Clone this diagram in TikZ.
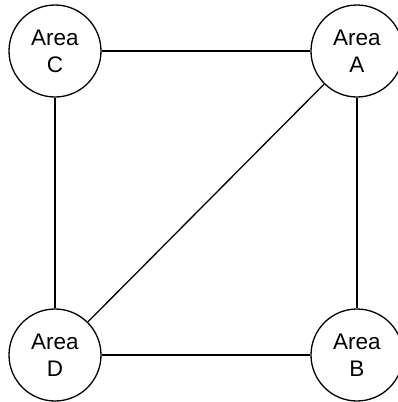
\documentclass[tikz,border=0pt]{standalone}
\usepackage{fontspec}
\setmainfont{Liberation Sans}
\begin{document}
\begin{tikzpicture}[x=1pt,y=-1pt,
  area/.style={circle,draw,line width=1.3pt,minimum size=92pt,inner sep=0pt,
    align=center,font=\fontsize{22.5}{27}\selectfont},
  link/.style={line width=1.3pt}]
\useasboundingbox (0,0) rectangle (398,402);
\node[area] (C) at (55,51) {Area\\C};
\node[area] (A) at (357,51) {Area\\A};
\node[area] (D) at (55,355) {Area\\D};
\node[area] (B) at (357,355) {Area\\B};
\draw[link] (C) -- (A);
\draw[link] (C) -- (D);
\draw[link] (A) -- (B);
\draw[link] (D) -- (B);
\draw[link] (A) -- (D);
\end{tikzpicture}
\end{document}
